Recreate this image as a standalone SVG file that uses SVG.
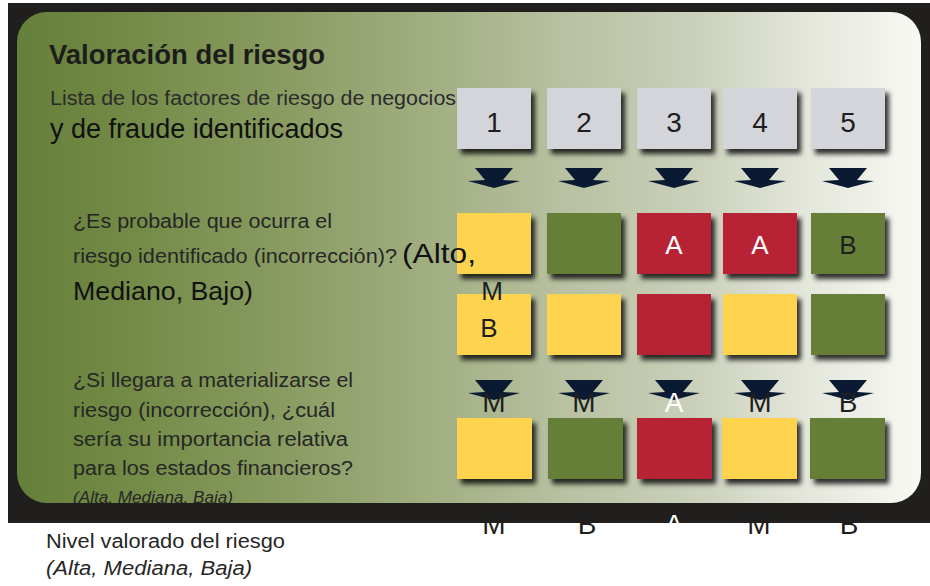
<svg xmlns="http://www.w3.org/2000/svg" width="930" height="586" viewBox="0 0 930 586">
<defs>
<linearGradient id="panelGrad" x1="17" y1="0" x2="921" y2="0" gradientUnits="userSpaceOnUse">
<stop offset="0" stop-color="#65803a"/>
<stop offset="0.1" stop-color="#708843"/>
<stop offset="0.3" stop-color="#8a9c62"/>
<stop offset="0.47" stop-color="#a3b084"/>
<stop offset="0.6" stop-color="#b7c0a0"/>
<stop offset="0.75" stop-color="#cad0ba"/>
<stop offset="0.87" stop-color="#e3e6da"/>
<stop offset="1" stop-color="#f8f9f4"/>
</linearGradient>
<filter id="shadow" x="-20%" y="-20%" width="150%" height="150%">
<feDropShadow dx="4" dy="5" stdDeviation="2.5" flood-color="#000" flood-opacity="0.8"/>
</filter>
<clipPath id="panelClip"><rect x="17" y="12" width="904" height="491"/></clipPath>
<polygon id="arrow" points="-19,0 19,0 9,12 26,13 0,20 -26,13 -9,12"/>
</defs>
<style>
text{font-family:"Liberation Sans",Arial,sans-serif;}
.sq{filter:url(#shadow);}
.gray{fill:#d4d5da;}
.yel{fill:#fed44f;}
.grn{fill:#667f37;}
.red{fill:#b82035;}
.num{font-size:28px;fill:#1e1e1e;text-anchor:middle;}
.let{font-size:26px;text-anchor:middle;fill:#1e1e1e;}
.letw{font-size:26px;text-anchor:middle;fill:#ffffff;}
.big{font-size:28px;text-anchor:middle;fill:#1e1e1e;}
.bigw{font-size:28px;text-anchor:middle;fill:#ffffff;}
.q{font-size:20px;fill:#262626;}
.arr{fill:#0b1a33;}
</style>
<rect x="0" y="0" width="930" height="586" fill="#ffffff"/>
<rect x="8" y="3" width="922" height="520" fill="#201f1d"/>
<rect x="17" y="12" width="904" height="491" rx="30" ry="30" fill="url(#panelGrad)"/>

<g id="title">
<text x="49" y="64" font-size="27" font-weight="bold" fill="#1c1c1c" textLength="276" lengthAdjust="spacingAndGlyphs">Valoración del riesgo</text>
<text x="50" y="105" font-size="20" fill="#2b2b2b" textLength="406" lengthAdjust="spacingAndGlyphs">Lista de los factores de riesgo de negocios</text>
<text x="50" y="138" font-size="27" fill="#111111" textLength="293" lengthAdjust="spacingAndGlyphs">y de fraude identificados</text>
</g>

<g id="question1">
<text class="q" x="73" y="228" textLength="259" lengthAdjust="spacingAndGlyphs">¿Es probable que ocurra el</text>
<text class="q" x="73" y="263" textLength="324" lengthAdjust="spacingAndGlyphs">riesgo identificado (incorrección)?</text>
<text x="73" y="300" font-size="26" fill="#111111" textLength="180" lengthAdjust="spacingAndGlyphs">Mediano, Bajo)</text>
</g>

<g id="question2">
<text class="q" x="73" y="387" textLength="280" lengthAdjust="spacingAndGlyphs">¿Si llegara a materializarse el</text>
<text class="q" x="73" y="417" textLength="262" lengthAdjust="spacingAndGlyphs">riesgo (incorrección), ¿cuál</text>
<text class="q" x="73" y="446" textLength="275" lengthAdjust="spacingAndGlyphs">sería su importancia relativa</text>
<text class="q" x="73" y="475" textLength="280" lengthAdjust="spacingAndGlyphs">para los estados financieros?</text>
<text x="73" y="503" font-size="16" font-style="italic" fill="#262626" clip-path="url(#panelClip)" textLength="160" lengthAdjust="spacingAndGlyphs">(Alta, Mediana, Baja)</text>
</g>

<g id="level-label">
<text x="46" y="548" font-size="20" fill="#262626" textLength="239" lengthAdjust="spacingAndGlyphs">Nivel valorado del riesgo</text>
<text x="46" y="575" font-size="20" font-style="italic" fill="#262626" textLength="206" lengthAdjust="spacingAndGlyphs">(Alta, Mediana, Baja)</text>
</g>

<g id="factors">
<rect class="sq gray" x="457" y="88" width="74" height="61"/>
<rect class="sq gray" x="547" y="88" width="74" height="61"/>
<rect class="sq gray" x="637" y="88" width="74" height="61"/>
<rect class="sq gray" x="723" y="88" width="74" height="61"/>
<rect class="sq gray" x="811" y="88" width="74" height="61"/>
<text class="num" x="494" y="132">1</text>
<text class="num" x="584" y="132">2</text>
<text class="num" x="674" y="132">3</text>
<text class="num" x="760" y="132">4</text>
<text class="num" x="848" y="132">5</text>
</g>

<g id="probability">
<rect class="sq yel" x="457" y="213" width="74" height="61"/>
<rect class="sq grn" x="547" y="213" width="74" height="61"/>
<rect class="sq red" x="637" y="213" width="74" height="61"/>
<rect class="sq red" x="723" y="213" width="74" height="61"/>
<rect class="sq grn" x="811" y="213" width="74" height="61"/>
<text class="letw" x="674" y="254">A</text>
<text class="letw" x="760" y="254">A</text>
<text class="let" x="848" y="254">B</text>
<rect class="sq yel" x="457" y="294" width="74" height="61"/>
<rect class="sq yel" x="547" y="294" width="74" height="61"/>
<rect class="sq red" x="637" y="294" width="74" height="61"/>
<rect class="sq yel" x="723" y="294" width="74" height="61"/>
<rect class="sq grn" x="811" y="294" width="74" height="61"/>
</g>

<g id="scale-note">
<text x="402" y="263" font-size="28" fill="#111111" textLength="74" lengthAdjust="spacingAndGlyphs">(Alto,</text>
<text class="let" x="492" y="300" font-size="25" fill="#111111">M</text>
<text class="let" x="489" y="337" font-size="25" fill="#111111">B</text>
</g>

<g id="materiality">
<rect class="sq yel" x="457" y="418" width="75" height="61"/>
<rect class="sq grn" x="548" y="418" width="75" height="61"/>
<rect class="sq red" x="637" y="418" width="75" height="61"/>
<rect class="sq yel" x="722" y="418" width="75" height="61"/>
<rect class="sq grn" x="810" y="418" width="75" height="61"/>
</g>

<g id="connectors">
<use href="#arrow" class="arr" x="494" y="168"/>
<use href="#arrow" class="arr" x="584" y="168"/>
<use href="#arrow" class="arr" x="674" y="168"/>
<use href="#arrow" class="arr" x="760" y="168"/>
<use href="#arrow" class="arr" x="848" y="168"/>
<use href="#arrow" class="arr" x="494" y="380"/>
<use href="#arrow" class="arr" x="584" y="380"/>
<use href="#arrow" class="arr" x="674" y="380"/>
<use href="#arrow" class="arr" x="760" y="380"/>
<use href="#arrow" class="arr" x="848" y="380"/>
</g>

<g id="row-labels">
<text class="big" x="494" y="412">M</text>
<text class="big" x="584" y="412">M</text>
<text class="bigw" x="674" y="412">A</text>
<text class="big" x="760" y="412">M</text>
<text class="big" x="848" y="412">B</text>
</g>

<g id="result-labels">
<text class="big" x="494" y="534">M</text>
<text class="big" x="587" y="534">B</text>
<text class="bigw" x="674" y="534">A</text>
<text class="big" x="759" y="534">M</text>
<text class="big" x="849" y="534">B</text>
</g>
</svg>
